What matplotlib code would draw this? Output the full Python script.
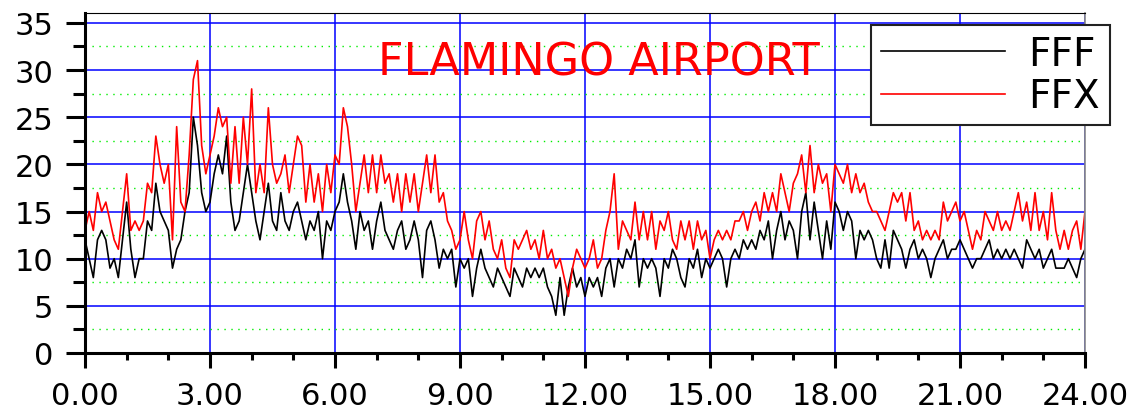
import numpy as np
import matplotlib.pyplot as plt
from matplotlib.ticker import MultipleLocator, FormatStrFormatter

# wind speed (kt) at Flamingo Airport, read every 0.1 h from 00:00 to 24:00
fff = [12, 10, 8, 12, 13, 12, 9, 10, 8, 12,
       16, 11, 8, 10, 10, 14, 13, 18, 15, 14,
       13, 9, 11, 12, 15, 17, 25, 22, 17, 15,
       16, 19, 21, 19, 23, 16, 13, 14, 17, 20,
       17, 14, 12, 15, 18, 14, 13, 17, 14, 13,
       15, 16, 14, 12, 14, 13, 15, 10, 14, 13,
       15, 16, 19, 16, 14, 11, 15, 13, 14, 11,
       14, 16, 13, 12, 11, 13, 14, 11, 12, 14,
       12, 8, 13, 14, 12, 9, 11, 10, 11, 7,
       10, 9, 10, 6, 9, 11, 9, 8, 7, 9,
       8, 7, 6, 9, 8, 7, 9, 8, 9, 8,
       9, 7, 6, 4, 8, 4, 7, 9, 7, 8,
       6, 8, 7, 8, 6, 9, 10, 7, 10, 9,
       11, 10, 12, 7, 10, 9, 10, 9, 6, 10,
       9, 11, 10, 8, 7, 10, 9, 11, 8, 10,
       9, 10, 11, 10, 7, 10, 11, 10, 12, 11,
       12, 11, 13, 12, 14, 10, 13, 15, 12, 14,
       13, 10, 15, 17, 12, 16, 13, 10, 14, 11,
       16, 15, 13, 15, 14, 10, 13, 12, 13, 12,
       10, 9, 12, 9, 13, 12, 11, 9, 11, 12,
       10, 11, 10, 8, 10, 11, 12, 10, 11, 11,
       12, 11, 10, 9, 10, 10, 11, 12, 10, 11,
       10, 11, 10, 11, 10, 9, 12, 11, 10, 11,
       9, 10, 11, 9, 9, 9, 10, 9, 8, 10,
       11]

ffx = [13, 15, 13, 17, 15, 16, 14, 12, 11, 15,
       19, 13, 14, 13, 14, 18, 17, 23, 20, 18,
       20, 12, 24, 16, 15, 21, 29, 31, 22, 19,
       21, 23, 26, 24, 25, 18, 24, 18, 25, 20,
       28, 17, 20, 17, 26, 20, 18, 19, 21, 17,
       20, 23, 22, 16, 20, 16, 19, 15, 20, 17,
       21, 20, 26, 24, 20, 15, 18, 21, 17, 21,
       17, 21, 18, 19, 16, 19, 15, 19, 16, 19,
       15, 18, 21, 17, 21, 16, 17, 14, 13, 11,
       12, 15, 12, 10, 14, 15, 12, 14, 11, 10,
       12, 9, 8, 12, 11, 12, 13, 11, 12, 10,
       13, 10, 11, 9, 10, 8, 6, 9, 11, 10,
       9, 10, 12, 9, 10, 13, 15, 19, 11, 14,
       13, 12, 16, 12, 15, 12, 15, 11, 14, 13,
       15, 12, 11, 14, 12, 14, 11, 14, 12, 13,
       10, 12, 13, 12, 13, 12, 14, 14, 15, 13,
       15, 16, 14, 17, 15, 17, 15, 19, 17, 15,
       18, 19, 21, 17, 22, 17, 20, 18, 19, 15,
       20, 19, 18, 20, 17, 19, 17, 18, 16, 15,
       15, 14, 13, 15, 17, 16, 17, 14, 17, 13,
       14, 12, 13, 12, 13, 12, 16, 14, 15, 16,
       14, 15, 13, 11, 13, 12, 15, 14, 13, 15,
       13, 14, 13, 15, 17, 14, 16, 13, 17, 13,
       15, 12, 17, 13, 11, 13, 11, 13, 14, 11,
       15]

hours = np.linspace(0, 24, len(fff))

fig = plt.figure(figsize=(11.34, 4.14), dpi=100)
ax = fig.add_axes([85/1134, 1-354/414, 1000/1134, 340/414])

ax.plot(hours, fff, color='black', lw=1.2, label='FFF')
ax.plot(hours, ffx, color='red', lw=1.2, label='FFX')

ax.set_xlim(0, 24)
ax.set_ylim(0, 36.05)

ax.xaxis.set_major_locator(MultipleLocator(3))
ax.xaxis.set_minor_locator(MultipleLocator(1))
ax.xaxis.set_major_formatter(FormatStrFormatter('%.2f'))
ax.yaxis.set_major_locator(MultipleLocator(5))
ax.yaxis.set_minor_locator(MultipleLocator(2.5))

# grid
ax.grid(which='major', axis='both', color='#0000ff', lw=1.1)
ax.grid(which='minor', axis='y', color='#00ee00', lw=1.0, linestyle=(0, (1, 4)))
ax.grid(which='minor', axis='x', visible=False)
ax.set_axisbelow(True)

for s in ['left', 'bottom']:
    ax.spines[s].set_linewidth(2.2)
ax.spines['top'].set_linewidth(0.8)
ax.spines['right'].set_color('#888888')
ax.spines['right'].set_linewidth(1.2)

ax.tick_params(axis='y', which='major', direction='out', length=14, width=2.2, pad=9, labelsize=22)
ax.tick_params(axis='y', which='minor', direction='out', length=8.5, width=2.2)
ax.tick_params(axis='x', which='major', direction='out', length=11, width=2.2, pad=9, labelsize=22)
ax.tick_params(axis='x', which='minor', direction='out', length=5, width=2.2)

ax.text(12.33, 30.9, 'FLAMINGO AIRPORT', color='red', fontsize=32,
        ha='center', va='center')

leg = ax.legend(loc='upper left', bbox_to_anchor=(871/1134, 1-26/414),
                bbox_transform=fig.transFigure, fontsize=28, handlelength=3.2,
                fancybox=False, edgecolor='#222222', framealpha=1,
                borderpad=0.25, labelspacing=0.12, handletextpad=0.6,
                borderaxespad=0)
leg.get_frame().set_linewidth(1.5)

fig.savefig('out.png', dpi=100)
